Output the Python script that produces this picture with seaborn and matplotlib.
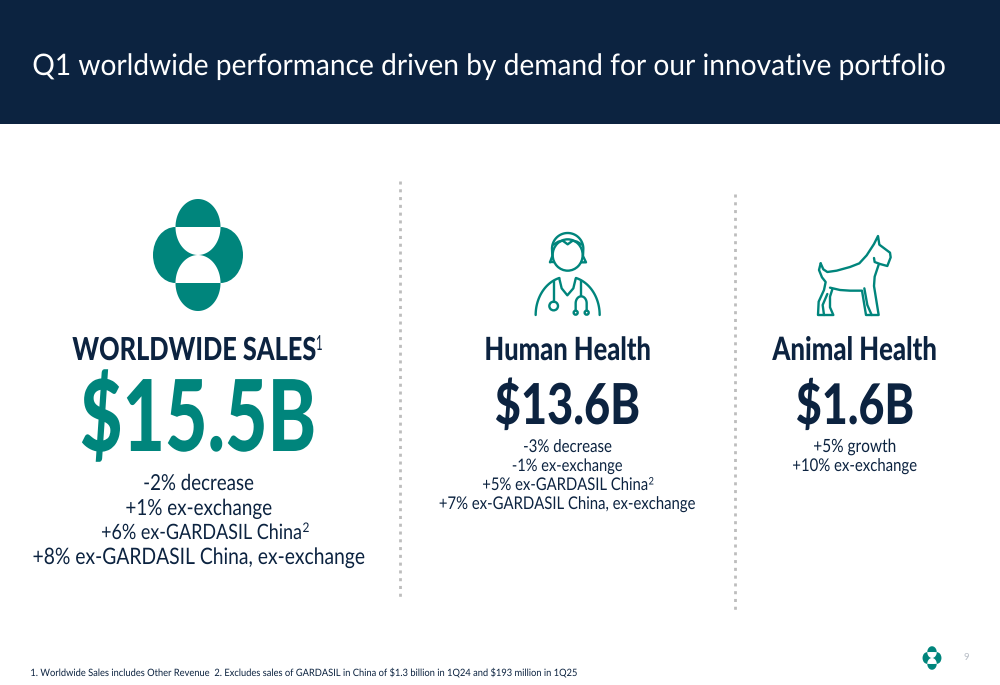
"""Q1 performance slide rebuilt on a pixel-sized seaborn/matplotlib canvas."""

import matplotlib

matplotlib.use("Agg")

import matplotlib.patheffects as pe
import matplotlib.pyplot as plt
import numpy as np
import seaborn as sns
from matplotlib.patches import Circle, Ellipse, Polygon, Rectangle
from matplotlib.transforms import Affine2D

NAVY = "#0C2340"
TEAL = "#00857C"

title_text = "Q1 worldwide performance driven by demand for our innovative portfolio"
segments = ["WORLDWIDE SALES", "Human Health", "Animal Health"]
totals = ["$15.5B", "$13.6B", "$1.6B"]
ww_lines = ["-2% decrease", "+1% ex-exchange", "+6% ex-GARDASIL China", "+8% ex-GARDASIL China, ex-exchange"]
hh_lines = ["-3% decrease", "-1% ex-exchange", "+5% ex-GARDASIL China", "+7% ex-GARDASIL China, ex-exchange"]
ah_lines = ["+5% growth", "+10% ex-exchange"]
footnote = ("1. Worldwide Sales includes Other Revenue  2. Excludes sales of GARDASIL "
            "in China of $1.3 billion in 1Q24 and $193 million in 1Q25")

sns.set_theme(style="white")
plt.rcParams["font.family"] = ["Lato", "DejaVu Sans"]

fig = plt.figure(figsize=(10, 6.85), dpi=100, facecolor="white")
ax = fig.add_axes([0, 0, 1, 1])
ax.set_xlim(0, 1000)
ax.set_ylim(685, 0)
ax.axis("off")
renderer = fig.canvas.get_renderer()


class Squeeze(pe.AbstractPathEffect):
    """Narrow the drawn glyphs about an anchor, since no condensed font is installed."""

    def __init__(self, anchor, factor):
        super().__init__()
        self.squeeze = Affine2D().translate(-anchor, 0).scale(factor, 1).translate(anchor, 0)

    def draw_path(self, renderer, gc, tpath, affine, rgbFace=None):
        renderer.draw_path(gc, tpath, affine + self.squeeze, rgbFace)


def fit_text(text, x0, x1, baseline, color=NAVY, weight="normal", squeeze=0.85, ha="center"):
    """Put text on a baseline and size it so the narrowed glyphs run from x0 to x1."""
    anchor = x1 if ha == "right" else (x0 + x1) / 2
    t = ax.text(anchor, baseline, text, ha=ha, va="baseline",
                color=color, fontweight=weight, fontsize=20, parse_math=False)
    width = t.get_window_extent(renderer).width
    t.set_fontsize(20 * (x1 - x0) / (width * squeeze))
    t.set_path_effects([Squeeze(anchor, squeeze)])
    return t


def sup(text, x, baseline, size, squeeze=0.85, weight="normal"):
    t = ax.text(x, baseline, text, ha="left", va="baseline", color=NAVY,
                fontsize=size, fontweight=weight)
    t.set_path_effects([Squeeze(x, squeeze)])


def half_ellipse(cx, cy, rx, ry, upper, color):
    angle = np.linspace(np.pi, 2 * np.pi, 60) if upper else np.linspace(0, np.pi, 60)
    pts = np.column_stack([cx + rx * np.cos(angle), cy + ry * np.sin(angle)])
    ax.add_patch(Polygon(pts, closed=True, fc=color, ec="none"))


def logo(cx, cy, scale):
    rx, ry = 22.5 * scale, 28 * scale
    for dx in (-rx, rx):
        ax.add_patch(Ellipse((cx + dx, cy), 2 * rx, 2 * ry, fc=TEAL, ec="none"))
    half_ellipse(cx, cy - ry, rx, ry, True, TEAL)
    half_ellipse(cx, cy - ry, rx, ry, False, "white")
    half_ellipse(cx, cy + ry, rx, ry, False, TEAL)
    half_ellipse(cx, cy + ry, rx, ry, True, "white")


def icon_line(points, x0, y0, lw=1.7):
    pts = np.array(points, dtype=float) / 3 + [x0, y0]
    ax.plot(pts[:, 0], pts[:, 1], color=TEAL, lw=lw, solid_capstyle="round", solid_joinstyle="round")


def arc(cx, cy, rx, ry, start, stop):
    angle = np.radians(np.linspace(start, stop, 40))
    return np.column_stack([cx + rx * np.cos(angle), cy + ry * np.sin(angle)])


def doctor(x0, y0):
    # head, hair, shoulders and stethoscope, traced in 3x crop units
    ax.add_patch(Ellipse((x0 + 173 / 3, y0 + 105 / 3), 90 / 3, 94 / 3, fc="none", ec=TEAL, lw=1.7))
    hair = np.vstack([[(120, 127), (127, 108)], arc(173, 86, 47, 47, 180, 360), [(219, 108), (228, 127), (214, 127)]])
    icon_line(hair, x0, y0)
    icon_line([(120, 127), (132, 127)], x0, y0)
    icon_line([(130, 74), (145, 65), (158, 62), (173, 73), (188, 62), (201, 65), (216, 74)], x0, y0)
    icon_line(arc(173, 285, 96, 115, 180, 255), x0, y0)
    icon_line(arc(173, 285, 96, 115, 285, 360), x0, y0)
    icon_line([(148, 176), (155, 205), (172, 226), (190, 205), (197, 176)], x0, y0)
    icon_line([(131, 183), (131, 245)], x0, y0)
    ax.add_patch(Circle((x0 + 131 / 3, y0 + 258 / 3), 13 / 3, fc="none", ec=TEAL, lw=1.7))
    icon_line([(214, 183), (214, 229)], x0, y0)
    icon_line(np.vstack([[(197, 270)], arc(213.5, 250, 16.5, 21, 180, 360), [(230, 270)]]), x0, y0)
    for zx in (197, 230):
        ax.add_patch(Circle((x0 + zx / 3, y0 + 278 / 3), 6 / 3, fc="none", ec=TEAL, lw=1.7))


def dog(x0, y0):
    # body outline traced in 3x crop units
    icon_line([(62, 130), (70, 148), (82, 156), (110, 152), (150, 141), (178, 130), (200, 106),
               (222, 72), (234, 48), (238, 74), (270, 98), (272, 112), (262, 138), (240, 132),
               (224, 126), (222, 114)], x0, y0)
    icon_line([(236, 134), (224, 170), (222, 198), (236, 285), (198, 285), (186, 212), (150, 212),
               (120, 210), (90, 203)], x0, y0)
    icon_line([(62, 130), (57, 150), (66, 172), (77, 186), (72, 210), (56, 245), (54, 285), (100, 285),
               (90, 262), (90, 230), (97, 208)], x0, y0)
    icon_line([(72, 285), (68, 255), (82, 222)], x0, y0)
    icon_line([(193, 205), (202, 255), (215, 285)], x0, y0)


ax.add_patch(Rectangle((0, 0), 1000, 124, fc=NAVY, ec="none"))
fit_text(title_text, 32, 948, 75, color="white", squeeze=0.95)

for x, y0, y1 in ((400, 181, 600), (735, 194, 612)):
    ax.plot([x, x], [y0, y1], color="#BDBDBD", lw=2, dashes=(1.1, 1.7))

logo(198, 255, 1.0)
doctor(510, 220)
dog(800, 220)
logo(932, 658, 0.21)

# worldwide column
fit_text(segments[0], 72, 316, 360, weight="black", squeeze=0.8, ha="right")
sup("1", 316, 350, 15, squeeze=0.55)
fit_text(totals[0], 80, 316, 451, color=TEAL, weight="black", squeeze=0.74)
ww_spans = [(143, 254), (125, 272), (101, 302), (32, 365)]
for line, (x0, x1), base in zip(ww_lines, ww_spans, (490, 515, 539, 564)):
    fit_text(line, x0, x1, base, ha="right" if line.endswith("China") else "center")
sup("2", 302.5, 532, 9.5, squeeze=0.9)

# human health column
fit_text(segments[1], 484, 651, 360, weight="black", squeeze=0.8)
fit_text(totals[1], 495, 640, 424, weight="black", squeeze=0.8)
hh_spans = [(523, 612), (512, 623), (482, 648), (439, 696)]
for line, (x0, x1), base in zip(hh_lines, hh_spans, (452, 471, 490, 509)):
    fit_text(line, x0, x1, base, ha="right" if line.endswith("China") else "center")
sup("2", 648.5, 484.5, 7.5, squeeze=0.9)

# animal health column
fit_text(segments[2], 772, 937, 360, weight="black", squeeze=0.8)
fit_text(totals[2], 796, 914, 424, weight="black", squeeze=0.8)
fit_text(ah_lines[0], 813, 896, 452)
fit_text(ah_lines[1], 792, 917, 471)

fit_text(footnote, 31, 579, 676, squeeze=0.92)
ax.text(966, 658, "9", ha="center", va="center", color="#B8BEC6", fontsize=7)

fig.savefig("out.png", dpi=100, facecolor="white")
